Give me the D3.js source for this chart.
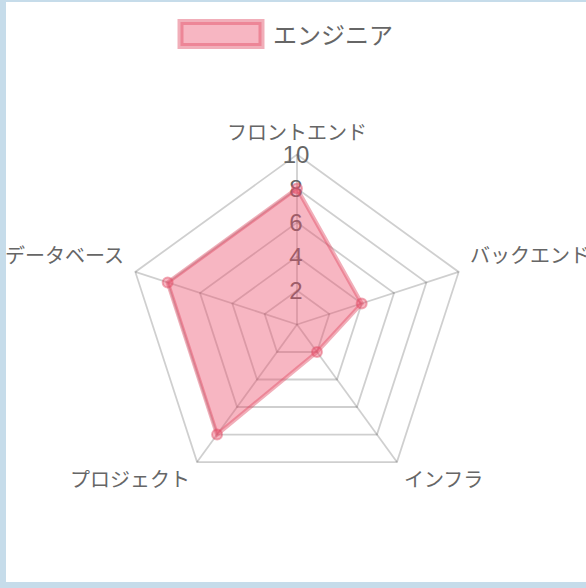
<!DOCTYPE html>
<html>
<head>
<meta charset="utf-8">
<script src="https://cdn.jsdelivr.net/npm/d3@7"></script>
<style>
  html, body { margin: 0; padding: 0; background: #c6dcea; }
  body { width: 586px; height: 588px; overflow: hidden; position: relative; }
  #frame { position: absolute; left: 6px; top: 2px; width: 580px; height: 580px; background: #fff; }
  svg { position: absolute; left: 0; top: 0; }
</style>
</head>
<body>
<div id="frame"></div>
<svg id="chart" width="586" height="588"></svg>
<script>
const categories = ["フロントエンド", "バックエンド", "インフラ", "プロジェクト", "データベース"];
const seriesName = "エンジニア";
const values = [8, 4, 2, 8, 8];
const tickValues = [2, 4, 6, 8, 10];

const FONT = "'Liberation Sans', 'Helvetica Neue', Arial, 'Noto Sans CJK JP', sans-serif";
const TEXT_COLOR = "#666";
const FILL = "rgba(235,80,110,0.42)";
const STROKE = "rgba(225,75,100,0.45)";

const cx = 297, cy = 324.5, R = 170;
const svg = d3.select("#chart");

const rScale = d3.scaleLinear().domain([0, 10]).range([0, R]);
const aScale = d3.scaleLinear().domain([0, categories.length]).range([-Math.PI / 2, 1.5 * Math.PI]);

function pt(i, r) {
  const a = aScale(i);
  return [cx + r * Math.cos(a), cy + r * Math.sin(a)];
}

const g = svg.append("g");

// grid pentagons
g.selectAll("polygon.grid").data(tickValues).join("polygon")
  .attr("class", "grid")
  .attr("points", v => categories.map((c, i) => pt(i, rScale(v)).join(",")).join(" "))
  .attr("fill", "none")
  .attr("stroke", "rgba(0,0,0,0.19)")
  .attr("stroke-width", 1.8);

// angle lines
g.selectAll("line.angle").data(categories).join("line")
  .attr("class", "angle")
  .attr("x1", cx).attr("y1", cy)
  .attr("x2", (c, i) => pt(i, R)[0])
  .attr("y2", (c, i) => pt(i, R)[1])
  .attr("stroke", "rgba(0,0,0,0.19)")
  .attr("stroke-width", 1.8);

// point labels
const LD = R + 12;
g.selectAll("text.plabel").data(categories).join("text")
  .attr("class", "plabel")
  .attr("x", (c, i) => pt(i, LD)[0])
  .attr("y", (c, i) => {
    const p = pt(i, LD);
    const a = aScale(i);
    const s = Math.sin(a);
    if (s < -0.9) return p[1] - 10;
    if (s < 0) return p[1] - 12;
    return p[1] + 8;
  })
  .attr("text-anchor", (c, i) => {
    const x = Math.cos(aScale(i));
    if (Math.abs(x) < 0.01) return "middle";
    return x > 0 ? "start" : "end";
  })
  .attr("dominant-baseline", "central")
  .attr("font-family", FONT)
  .attr("font-size", 20)
  .attr("fill", TEXT_COLOR)
  .text(d => d);

// tick labels
g.selectAll("text.tick").data(tickValues).join("text")
  .attr("class", "tick")
  .attr("x", cx - 1)
  .attr("y", v => cy - rScale(v))
  .attr("text-anchor", "middle")
  .attr("dominant-baseline", "central")
  .attr("font-family", FONT)
  .attr("font-size", 24)
  .attr("fill", TEXT_COLOR)
  .text(d => d);

// data polygon
const polyPts = values.map((v, i) => pt(i, rScale(v)));
g.append("polygon")
  .attr("points", polyPts.map(p => p.join(",")).join(" "))
  .attr("fill", FILL)
  .attr("stroke", STROKE)
  .attr("stroke-width", 4)
  .attr("stroke-linejoin", "miter");

g.selectAll("circle.pt").data(values).join("circle")
  .attr("class", "pt")
  .attr("cx", (v, i) => pt(i, rScale(v))[0])
  .attr("cy", (v, i) => pt(i, rScale(v))[1])
  .attr("r", 5)
  .attr("fill", FILL)
  .attr("stroke", STROKE)
  .attr("stroke-width", 2);

// legend
const legend = svg.append("g");
legend.append("rect")
  .attr("x", 180.5).attr("y", 22).attr("width", 81).attr("height", 24)
  .attr("fill", FILL)
  .attr("stroke", STROKE)
  .attr("stroke-width", 6);
legend.append("text")
  .attr("x", 273).attr("y", 35)
  .attr("dominant-baseline", "central")
  .attr("font-family", FONT)
  .attr("font-size", 24)
  .attr("fill", TEXT_COLOR)
  .text(seriesName);
</script>
</body>
</html>
